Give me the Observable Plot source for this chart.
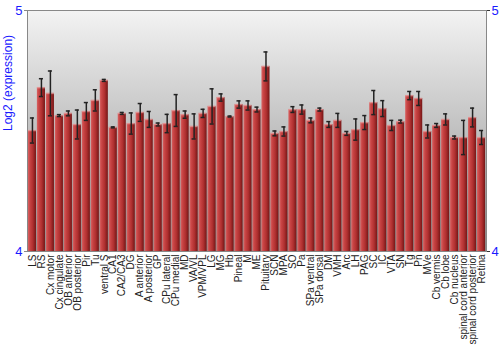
<!DOCTYPE html>
<html><head>
<meta charset="utf-8">
<script src="https://cdn.jsdelivr.net/npm/d3@7"></script>
<script src="https://cdn.jsdelivr.net/npm/@observablehq/plot@0.6"></script>
<style>body{margin:0;background:#fff}</style>
</head><body><div id="chart"></div>
<script>
const regions = ["LS","RS","Cx motor","Cx cingulate","OB anterior","OB posterior","Pir","Tu","ventral S","CA1","CA2/CA3","DG","A anterior","A posterior","GP","CPu lateral","CPu medial","MD","VA/VL","VPM/VPL","LG","MG","Hb","Pineal","M","ME","Pituitary","SCN","MPA","SO","Pa","SPa ventral","SPa dorsal","DM","VMH","Arc","LH","PAG","SC","IC","VTA","SN","Tg","Pn","MVe","Cb vermis","Cb lobe","Cb nucleus","spinal cord anterior","spinal cord posterior","Retina"];
const values = [4.502,4.680,4.656,4.564,4.573,4.527,4.581,4.627,4.710,4.515,4.573,4.531,4.577,4.548,4.527,4.531,4.585,4.568,4.519,4.573,4.602,4.639,4.560,4.610,4.606,4.589,4.768,4.490,4.498,4.589,4.589,4.544,4.589,4.527,4.544,4.490,4.506,4.535,4.618,4.593,4.523,4.539,4.647,4.635,4.498,4.523,4.548,4.473,4.473,4.556,4.473];
const errors = [0.052,0.037,0.093,0.004,0.010,0.060,0.037,0.044,0.004,0.002,0.004,0.044,0.037,0.033,0.006,0.038,0.066,0.015,0.052,0.017,0.073,0.015,0.002,0.015,0.019,0.010,0.060,0.010,0.019,0.012,0.019,0.010,0.006,0.012,0.029,0.008,0.044,0.029,0.050,0.033,0.021,0.006,0.017,0.029,0.027,0.008,0.023,0.006,0.071,0.039,0.029];
const yTicks = [4, 5];
const yLabel = "Log2 (expression)";

const data = regions.map((r, i) => ({region: r, value: values[i], err: errors[i]}));
const blue = "#1a1aff";

const chart = Plot.plot({
  width: 500, height: 350,
  marginLeft: 27, marginRight: 14, marginTop: 10, marginBottom: 99,
  style: {fontFamily: "'Liberation Sans', Arial, sans-serif", background: "#fff"},
  x: {domain: regions, padding: 0.1, label: null},
  y: {domain: [4, 5], label: null},
  marks: [
    Plot.frame({fill: "url(#bgGrad)"}),
    Plot.barY(data, {x: "region", y1: 4, y2: "value", fill: "url(#barGrad)"}),
    Plot.tickY(data, {x: "region", y: "value", stroke: "#e8a8a8", strokeWidth: 1.5, strokeOpacity: 0.7}),
    Plot.ruleX(data, {x: "region", y1: d => d.value - d.err, y2: d => d.value + d.err, stroke: "#222", strokeWidth: 1.5}),
    Plot.tickY(data, {x: "region", y: d => d.value - d.err, insetLeft: 2, insetRight: 2, stroke: "#222", strokeWidth: 1.5}),
    Plot.tickY(data, {x: "region", y: d => d.value + d.err, insetLeft: 2, insetRight: 2, stroke: "#222", strokeWidth: 1.5}),
    Plot.frame({stroke: "#888"}),
    Plot.axisY({anchor: "left", ticks: yTicks, tickFormat: d => String(d), tickSize: 3, tickPadding: 2, fontSize: 13, stroke: "#888", fill: blue, label: null}),
    Plot.axisY({anchor: "right", ticks: yTicks, tickFormat: d => String(d), tickSize: 3, tickPadding: 2, fontSize: 13, stroke: "#333", fill: blue, label: null}),
    Plot.axisX({tickRotate: -90, tickSize: 0, tickPadding: 3, fontSize: 10, fill: "#222", label: null}),
    Plot.text([yLabel], {frameAnchor: "left", dx: -19, rotate: -90, fill: blue, fontSize: 12})
  ]
});

const defs = d3.select(chart).insert("defs", ":first-child");
const bg = defs.append("linearGradient").attr("id", "bgGrad").attr("x1", 0).attr("y1", 0).attr("x2", 0).attr("y2", 1);
bg.append("stop").attr("offset", "0%").attr("stop-color", "#f3f3f3");
bg.append("stop").attr("offset", "100%").attr("stop-color", "#8e8e8e");
const bar = defs.append("linearGradient").attr("id", "barGrad").attr("x1", 0).attr("y1", 0).attr("x2", 1).attr("y2", 0);
[["0%", "#d86464"], ["25%", "#c84444"], ["60%", "#b03030"], ["100%", "#741616"]].forEach(([o, c]) =>
  bar.append("stop").attr("offset", o).attr("stop-color", c));

document.getElementById("chart").appendChild(chart);
</script>
</body></html>
